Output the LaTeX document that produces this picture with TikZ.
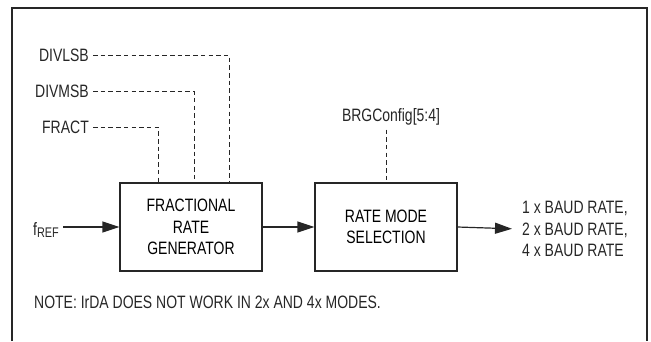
\documentclass[tikz,border=0pt]{standalone}
\usepackage{fontspec}
\setmainfont{Liberation Sans}[FakeStretch=0.78]
\usetikzlibrary{arrows.meta}
\definecolor{ink}{gray}{0.15}
\tikzset{
    blk/.style={draw=ink, line width=1.2bp, minimum width=142bp, minimum height=88bp, align=center, inner sep=0pt},
    sig/.style={inner sep=4bp, text=ink},
    ctl/.style={draw=ink, line width=0.9bp, dash pattern=on 4.5bp off 3.2bp},
    flow/.style={draw=ink, line width=1.2bp, -{Triangle[length=17bp,width=11bp]}}
}
\begin{document}
\begin{tikzpicture}[x=1bp, y=-1bp, font=\fontsize{18}{21.5}\selectfont]
    \useasboundingbox (0,0) rectangle (651,341);
    \draw[ink, line width=2bp] (12,341) -- (12,8) -- (647,8) -- (647,341);

    \node[blk] (fr) at (191,227) {FRACTIONAL\\RATE\\GENERATOR};
    \node[blk] (rm) at (386,227) {RATE MODE\\SELECTION};

    \node[sig, anchor=east] (lsb) at (93,55) {DIVLSB};
    \node[sig, anchor=east] (msb) at (93,91) {DIVMSB};
    \node[sig, anchor=east] (fract) at (93,127) {FRACT};
    \node[sig] (cfg) at (391,117) {BRGConfig[5:4]};
    \node[sig, anchor=east] (fref) at (63,230) {f\raisebox{-0.3ex}{\fontsize{14}{14}\selectfont REF}};
    \node[sig, anchor=west, align=left] (out) at (518,229) {1 x BAUD RATE,\\2 x BAUD RATE,\\4 x BAUD RATE};
    \node[sig, anchor=west] (note) at (30,302) {NOTE: IrDA DOES NOT WORK IN 2x AND 4x MODES.};

    \draw[ctl] (fract.east) -| ([xshift=-33bp]fr.north);
    \draw[ctl] (msb.east) -| ([xshift=3bp]fr.north);
    \draw[ctl] (lsb.east) -| ([xshift=38bp]fr.north);
    \draw[ctl] (cfg.south -| rm.north) -- (rm.north);

    \draw[flow] (fref.east |- fr.west) -- (fr.west);
    \draw[flow] (fr.east) -- (rm.west);
    \draw[flow, shorten >=6bp] (rm.east) -- (out.west);

\end{tikzpicture}
\end{document}
